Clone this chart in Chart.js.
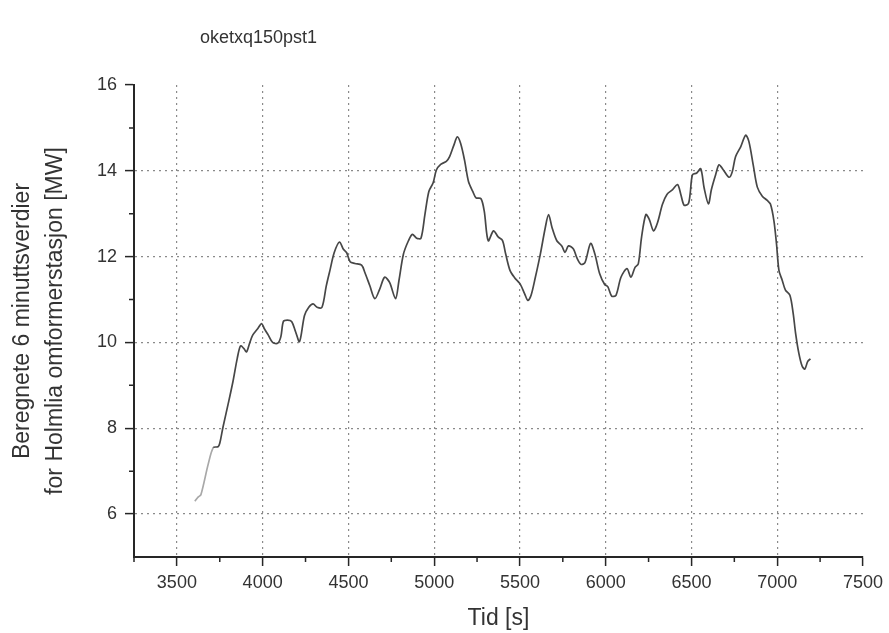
<!DOCTYPE html>
<html>
<head>
<meta charset="utf-8">
<script src="https://cdn.jsdelivr.net/npm/chart.js@4.4.1/dist/chart.umd.min.js"></script>
<style>
html,body{margin:0;padding:0;background:#fff;}
#wrap{width:889px;height:633px;}
</style>
</head>
<body>
<div id="wrap"><canvas id="chart" width="889" height="633"></canvas></div>
<script>
const chartTitle = 'oketxq150pst1';
const xTitle = 'Tid [s]';
const yTitle = ['Beregnete 6 minuttsverdier', 'for Holmlia omformerstasjon [MW]'];
const xTicks = [3500, 4000, 4500, 5000, 5500, 6000, 6500, 7000, 7500];
const xMinorTicks = [3250, 3750, 4250, 4750, 5250, 5750, 6250, 6750, 7250];
const yTicks = [6, 8, 10, 12, 14, 16];
const yMinorTicks = [7, 9, 11, 13, 15];

// time [s]
const timeValues = [
3605, 3625, 3640, 3683, 3712, 3740, 3750, 3769, 3798, 3827, 3852, 3871, 3890, 3906, 3923, 3942, 3971, 3994,
4010, 4033, 4058, 4087, 4106, 4121, 4144, 4169, 4192, 4215, 4244, 4269, 4294, 4317, 4346, 4371, 4394, 4417,
4448, 4471, 4490, 4510, 4538, 4577, 4596, 4625, 4654, 4683, 4711, 4740, 4775, 4795, 4821, 4850, 4873, 4898,
4923, 4946, 4969, 4994, 5013, 5038, 5071, 5090, 5115, 5135, 5154, 5177, 5200, 5225, 5244, 5273, 5292, 5315,
5346, 5373, 5398, 5417, 5442, 5469, 5500, 5527, 5546, 5565, 5590, 5619, 5648, 5667, 5687, 5715, 5744, 5763,
5783, 5812, 5831, 5856, 5879, 5912, 5937, 5965, 5994, 6012, 6035, 6060, 6089, 6124, 6147, 6171, 6190, 6209,
6234, 6254, 6279, 6302, 6331, 6357, 6390, 6419, 6438, 6457, 6481, 6492, 6506, 6531, 6554, 6574, 6599, 6616,
6641, 6661, 6686, 6719, 6738, 6757, 6787, 6816, 6835, 6860, 6884, 6913, 6942, 6961, 6981, 6996, 7010, 7029,
7048, 7074, 7093, 7107, 7126, 7145, 7161, 7178, 7194
];
// power [MW]
const powerValues = [
6.30, 6.40, 6.45, 7.17, 7.55, 7.57, 7.65, 8.03, 8.55, 9.09, 9.63, 9.92, 9.86, 9.78, 9.97, 10.17, 10.32, 10.44,
10.32, 10.17, 10.00, 9.98, 10.13, 10.49, 10.52, 10.49, 10.25, 10.02, 10.63, 10.82, 10.90, 10.82, 10.82, 11.32, 11.71, 12.09,
12.34, 12.17, 12.09, 11.88, 11.84, 11.80, 11.63, 11.32, 11.02, 11.25, 11.52, 11.40, 11.02, 11.45, 12.06, 12.37, 12.52, 12.43,
12.43, 12.98, 13.52, 13.72, 14.02, 14.15, 14.22, 14.33, 14.60, 14.79, 14.64, 14.25, 13.75, 13.52, 13.37, 13.35, 13.06, 12.37,
12.60, 12.46, 12.38, 12.06, 11.68, 11.51, 11.37, 11.14, 10.98, 11.10, 11.52, 12.06, 12.68, 12.98, 12.68, 12.37, 12.25, 12.10,
12.25, 12.18, 11.98, 11.82, 11.86, 12.31, 12.06, 11.60, 11.35, 11.30, 11.08, 11.10, 11.52, 11.72, 11.52, 11.75, 11.83, 12.45,
12.98, 12.87, 12.60, 12.79, 13.22, 13.45, 13.56, 13.68, 13.45, 13.20, 13.23, 13.45, 13.91, 13.95, 14.05, 13.60, 13.23, 13.56,
13.91, 14.14, 14.02, 13.85, 13.98, 14.33, 14.56, 14.83, 14.68, 14.14, 13.62, 13.41, 13.31, 13.22, 12.83, 12.29, 11.68, 11.45,
11.22, 11.10, 10.68, 10.22, 9.75, 9.45, 9.38, 9.56, 9.62
];

const FONT = "'Liberation Sans', Arial, sans-serif";
const axisColor = '#262626';
const textColor = '#333';
const gridColor = '#8a8a8a';

// title text, drawn left of centre like the original
const titleText = {
  id: 'titleText',
  afterDraw(chart){
    const ctx = chart.ctx;
    ctx.save();
    ctx.font = '18px ' + FONT;
    ctx.fillStyle = textColor;
    ctx.textBaseline = 'middle';
    ctx.fillText(chartTitle, 200, 38);
    ctx.restore();
  }
};

// short minor ticks between the labelled ones
const minorTicks = {
  id: 'minorTicks',
  afterDraw(chart){
    const {ctx, chartArea, scales:{x, y}} = chart;
    ctx.save();
    ctx.strokeStyle = axisColor; ctx.lineWidth = 1.5;
    ctx.beginPath();
    xMinorTicks.forEach(v=>{ const px = x.getPixelForValue(v); ctx.moveTo(px, chartArea.bottom); ctx.lineTo(px, chartArea.bottom + 5); });
    yMinorTicks.forEach(v=>{ const py = y.getPixelForValue(v); ctx.moveTo(chartArea.left, py); ctx.lineTo(chartArea.left - 5, py); });
    ctx.stroke();
    ctx.restore();
  }
};

function drawChart(){
const ctx = document.getElementById('chart').getContext('2d');
const points = timeValues.map((t,i)=>({x:t, y:powerValues[i]}));
new Chart(ctx, {
  type:'line',
  data:{datasets:[{
    data:points, borderColor:'#474747', borderWidth:1.7, pointRadius:0, tension:0.3, fill:false,
    segment:{borderColor: c => c.p1.parsed.x <= 3712 ? '#a8a8a8' : undefined}
  }]},
  options:{
    responsive:false, animation:false, devicePixelRatio:1,
    layout:{padding:{top:85, right:25, bottom:0, left:0}},
    plugins:{legend:{display:false}, tooltip:{enabled:false}, title:{display:false}},
    scales:{
      x:{
        type:'linear', min:3250, max:7500,
        afterBuildTicks: s => { s.ticks = xTicks.map(v=>({value:v})); },
        afterFit: s => { s.height = 76; },
        ticks:{callback: v => String(v), font:{family:FONT, size:18}, color:textColor, padding:6, maxRotation:0, autoSkip:false},
        grid:{color: c => (c.tick && c.tick.value === 7500) ? 'rgba(0,0,0,0)' : gridColor, lineWidth:1.2,
              tickLength:9, tickColor:axisColor, tickWidth:1.5, tickBorderDash:[]},
        border:{color:axisColor, width:2, dash:[2,4]},
        title:{display:true, text:xTitle, font:{family:FONT, size:23, lineHeight:1.2}, color:textColor, padding:{top:0, bottom:1}}
      },
      y:{
        type:'linear', min:5, max:16,
        afterBuildTicks: s => { s.ticks = yTicks.map(v=>({value:v})); },
        afterFit: s => { s.width = 134; },
        ticks:{callback: v => String(v), font:{family:FONT, size:18}, color:textColor, padding:8},
        grid:{color: c => (c.tick && c.tick.value === 16) ? 'rgba(0,0,0,0)' : gridColor, lineWidth:1.2,
              tickLength:9, tickColor:axisColor, tickWidth:1.5, tickBorderDash:[]},
        border:{color:axisColor, width:2, dash:[2,4]},
        title:{display:true, text:yTitle, font:{family:FONT, size:23, lineHeight:1.4}, color:textColor, padding:{top:7, bottom:0}}
      }
    }
  },
  plugins:[titleText, minorTicks]
});
}

window.addEventListener('load', drawChart);
</script>
</body>
</html>
